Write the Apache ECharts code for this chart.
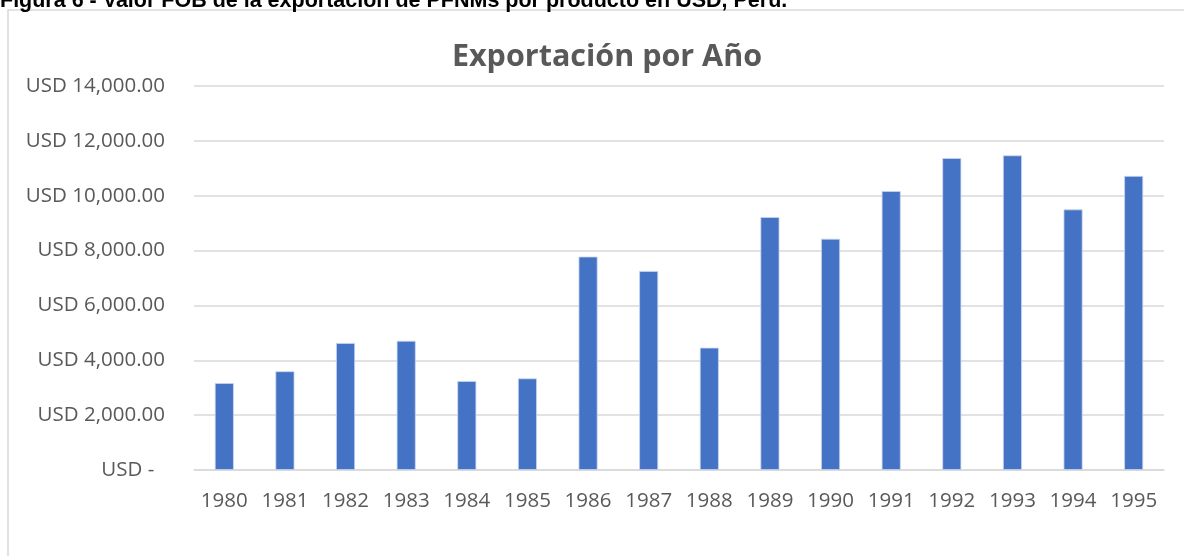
<!DOCTYPE html>
<html>
<head>
<meta charset="utf-8">
<script src="https://cdn.jsdelivr.net/npm/echarts@6/dist/echarts.min.js"></script>
<style>
  html, body { margin: 0; padding: 0; background: #fff; }
  #chart { width: 1184px; height: 556px; }
</style>
</head>
<body>
<div id="chart"></div>
<script>
// datos
const years = ["1980", "1981", "1982", "1983", "1984", "1985", "1986", "1987",
  "1988", "1989", "1990", "1991", "1992", "1993", "1994", "1995"];
const exportValues = [3170, 3600, 4630, 4710, 3245, 3340, 7780, 7255,
  4460, 9220, 8430, 10170, 11370, 11470, 9500, 10720];
const yTicks = [0, 2000, 4000, 6000, 8000, 10000, 12000, 14000];

const caption = "Figura 6 - Valor FOB de la exportación de PFNMs por producto en USD, Perú.";
const chartTitle = "Exportación por Año";

let myChart = echarts.init(document.getElementById("chart"));

function fmtUSD(v) {
  if (v === 0) return "USD -  ";
  return "USD " + v.toLocaleString("en-US", { minimumFractionDigits: 2, maximumFractionDigits: 2 });
}

let option = {
  animation: false,
  graphic: [
    {
      // marco del gráfico
      type: "rect",
      shape: { x: 8, y: 10, width: 1200, height: 600 },
      style: { fill: "none", stroke: "#d9d9d9", lineWidth: 1.5 },
      silent: true,
    },
    {
      type: "text",
      left: 0,
      top: -10,
      style: {
        text: caption,
        fill: "#000",
        font: "bold 21.5px 'Liberation Sans', Arial, sans-serif",
      },
    },
  ],
  title: {
    text: chartTitle,
    left: 602,
    top: 37,
    textAlign: "center",
    textStyle: {
      color: "#595959",
      fontSize: 30.5,
      fontWeight: "bold",
      fontFamily: "'Open Sans', sans-serif",
    },
  },
  grid: {
    left: 194,
    right: 20,
    top: 86,
    bottom: 86,
    containLabel: false,
  },
  xAxis: {
    type: "category",
    data: years,
    axisTick: { show: false },
    axisLine: { show: true, lineStyle: { color: "#d9d9d9", width: 1.5 } },
    axisLabel: {
      color: "#595959",
      fontSize: 20.5,
      fontFamily: "'Open Sans', sans-serif",
      margin: 21,
      interval: 0,
    },
  },
  yAxis: {
    type: "value",
    min: yTicks[0],
    max: yTicks[yTicks.length - 1],
    interval: 2000,
    axisLine: { show: false },
    axisTick: { show: false },
    splitLine: { show: true, lineStyle: { color: "#d9d9d9", width: 1.5 } },
    axisLabel: {
      color: "#595959",
      fontSize: 20.5,
      fontFamily: "'Open Sans', sans-serif",
      margin: 29,
      formatter: fmtUSD,
    },
  },
  series: [
    {
      type: "bar",
      data: exportValues,
      barWidth: 19,
      itemStyle: { color: "#4472c4", borderColor: "#c9d6ee", borderWidth: 0.8 },
    },
  ],
};

myChart.setOption(option, true);
window.addEventListener("resize", () => {
  myChart.resize();
});
</script>
</body>
</html>
